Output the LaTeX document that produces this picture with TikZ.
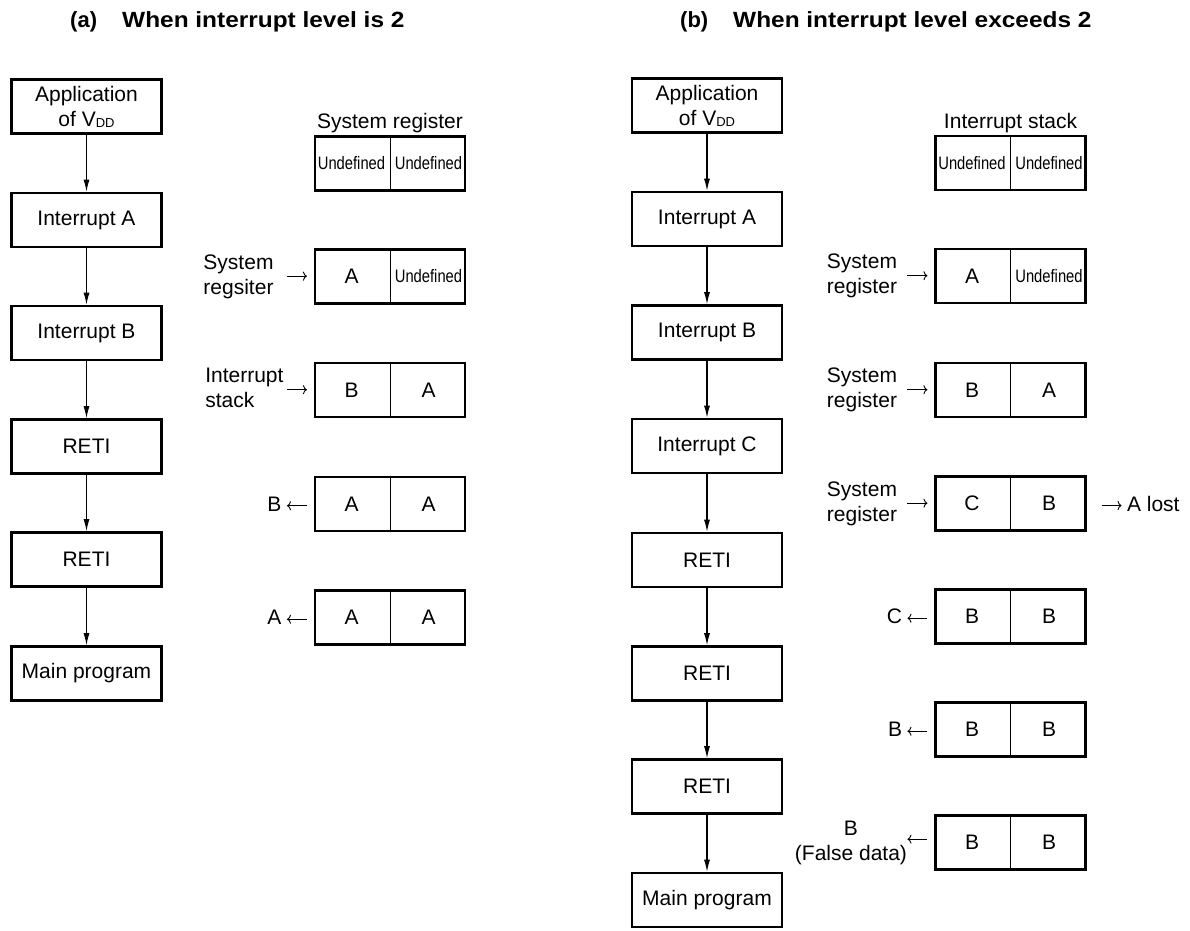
\documentclass[tikz,border=0pt]{standalone}
\usepackage{fontspec}
\usepackage{graphicx}
\setmainfont{Liberation Sans}
\usetikzlibrary{arrows.meta}
\newcommand\undef{{\fontsize{18}{20}\selectfont\scalebox{0.82}[1]{Undefined}}}
\newcommand\vdd{V\raisebox{-1pt}{\fontsize{13}{13}\selectfont DD}}
\newcommand\rar{\tikz[baseline=-5.5pt]\draw[line width=0.9pt,-{To[length=4pt,width=9pt]}] (0pt,0pt) -- (20pt,0pt);}
\newcommand\lar{\tikz[baseline=-5.5pt]\draw[line width=0.9pt,{To[length=4pt,width=9pt]}-] (0pt,0pt) -- (20pt,0pt);}
\newcommand\regbox[5]{%
  \node[reg] (#1) at (#2,#3) {};
  \draw[divider] (#1.north) -- (#1.south);
  \node[cell] (#1l) at ({#2-38.5},#3) {#4};
  \node[cell] (#1r) at ({#2+38.5},#3) {#5};}
\newcommand\twol[2]{\begin{tabular}{@{}l@{}}#1\\#2\end{tabular}}
\begin{document}
\begin{tikzpicture}[x=1pt,y=-1pt,
  flow/.style={draw,line width=2.6pt,minimum width=150pt,minimum height=54pt,inner sep=0pt,align=center,font=\fontsize{21}{25}\selectfont},
  reg/.style={draw,line width=2.8pt,minimum width=150pt,minimum height=54pt,inner sep=0pt},
  divider/.style={line width=1pt},
  cell/.style={font=\fontsize{21}{25}\selectfont,inner sep=0pt},
  lab/.style={font=\fontsize{21}{25}\selectfont,inner sep=0pt},
  conn/.style={line width=1.1pt,-{Latex[length=12pt,width=6pt]}},
  ttl/.style={font=\bfseries\fontsize{22}{26}\selectfont,anchor=base west,inner sep=0pt}
]
\useasboundingbox (0,0) rectangle (1190,930);

% titles
\node[ttl] (ta) at (70,27) {(a)};
\node[ttl] (taw) at (122,27) {\scalebox{1.11}[1]{When interrupt level is 2}};
\node[ttl] (tb) at (680,27) {(b)};
\node[ttl] (tbw) at (733,27) {\scalebox{1.11}[1]{When interrupt level exceeds 2}};

% ---------- (a) flow ----------
\node[flow] (fa1) at (86.5,106.5) {Application\\of \vdd};
\node[flow] (fa2) at (86.5,220) {Interrupt A};
\node[flow] (fa3) at (86.5,333) {Interrupt B};
\node[flow] (fa4) at (86.5,446.5) {RETI};
\node[flow] (fa5) at (86.5,559.5) {RETI};
\node[flow] (fa6) at (86.5,673.5) {Main program};
\draw[conn] (fa1) -- (fa2);
\draw[conn] (fa2) -- (fa3);
\draw[conn] (fa3) -- (fa4);
\draw[conn] (fa4) -- (fa5);
\draw[conn] (fa5) -- (fa6);

% ---------- (a) registers ----------
\regbox{ra1}{390}{163.5}{\undef}{\undef}
\regbox{ra2}{390}{276.5}{A}{\undef}
\regbox{ra3}{390}{390}{B}{A}
\regbox{ra4}{390}{504}{A}{A}
\regbox{ra5}{390}{617.5}{A}{A}
\node[lab,anchor=base] (ha) at (390,128) {System register};
\node[lab,anchor=east] (la2) at ([xshift=-6pt]ra2.west) {\twol{System}{regsiter}\hspace{13pt}\rar};
\node[lab,anchor=east] (la3) at ([xshift=-6pt]ra3.west) {\twol{Interrupt}{stack}\hspace{3pt}\rar};
\node[lab,anchor=east] (la4) at ([xshift=-6pt]ra4.west) {B\hspace{5pt}\lar};
\node[lab,anchor=east] (la5) at ([xshift=-6pt]ra5.west) {A\hspace{5pt}\lar};

% ---------- (b) flow ----------
\node[flow] (fb1) at (707,105.5) {Application\\of \vdd};
\node[flow] (fb2) at (707,219) {Interrupt A};
\node[flow] (fb3) at (707,332.5) {Interrupt B};
\node[flow] (fb4) at (707,446) {Interrupt C};
\node[flow] (fb5) at (707,560) {RETI};
\node[flow] (fb6) at (707,673.5) {RETI};
\node[flow] (fb7) at (707,786.5) {RETI};
\node[flow] (fb8) at (707,900) {Main program};
\draw[conn] (fb1) -- (fb2);
\draw[conn] (fb2) -- (fb3);
\draw[conn] (fb3) -- (fb4);
\draw[conn] (fb4) -- (fb5);
\draw[conn] (fb5) -- (fb6);
\draw[conn] (fb6) -- (fb7);
\draw[conn] (fb7) -- (fb8);

% ---------- (b) registers ----------
\regbox{rb1}{1010.5}{163}{\undef}{\undef}
\regbox{rb2}{1010.5}{276}{A}{\undef}
\regbox{rb3}{1010.5}{390}{B}{A}
\regbox{rb4}{1010.5}{503.5}{C}{B}
\regbox{rb5}{1010.5}{616.5}{B}{B}
\regbox{rb6}{1010.5}{729.5}{B}{B}
\regbox{rb7}{1010.5}{842.5}{B}{B}
\node[lab,anchor=base] (hb) at (1010.5,128) {Interrupt stack};
\node[lab,anchor=east] (lb2) at ([xshift=-6pt]rb2.west) {\twol{System}{register}\hspace{10pt}\rar};
\node[lab,anchor=east] (lb3) at ([xshift=-6pt]rb3.west) {\twol{System}{register}\hspace{10pt}\rar};
\node[lab,anchor=east] (lb4) at ([xshift=-6pt]rb4.west) {\twol{System}{register}\hspace{10pt}\rar};
\node[lab,anchor=west] (lost) at ([xshift=14pt]rb4.east) {\rar\hspace{5pt}A lost};
\node[lab,anchor=east] (lb5) at ([xshift=-6pt]rb5.west) {C\hspace{5pt}\lar};
\node[lab,anchor=east] (lb6) at ([xshift=-6pt]rb6.west) {B\hspace{5pt}\lar};
\node[lab,anchor=east] (lb7) at ([xshift=-6pt]rb7.west) {\begin{tabular}{@{}c@{}}B\\(False data)\end{tabular}\raisebox{3pt}{\lar}};
\end{tikzpicture}
\end{document}
